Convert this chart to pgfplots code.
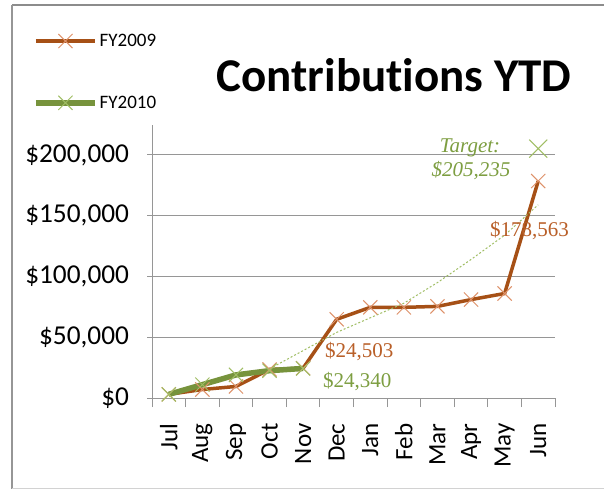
\documentclass[border=0pt]{standalone}
\usepackage{fontspec}
\setmainfont{Carlito}[Ligatures={NoCommon}]
\newfontfamily\labfont{Liberation Serif}
\usepackage{pgfplots}
\pgfplotsset{compat=1.18}
\definecolor{brownline}{RGB}{166,80,22}
\definecolor{brownmark}{RGB}{222,145,105}
\definecolor{browntext}{RGB}{185,95,40}
\definecolor{greenline}{RGB}{119,147,60}
\definecolor{greenmark}{RGB}{160,190,100}
\definecolor{greentext}{RGB}{125,158,65}
\definecolor{gridgray}{RGB}{150,150,150}
\begin{document}
\begin{tikzpicture}
\useasboundingbox (0,0) rectangle (604bp,491bp);
\fill[white] (0,0) rectangle (604bp,491bp);
\draw[line width=2bp, color={rgb,255:red,140;green,140;blue,140}] (12bp,486bp) -- (604bp,486bp);
\draw[line width=1.5bp, color={rgb,255:red,150;green,150;blue,150}] (12bp,486bp) -- (12bp,2bp);
\draw[line width=1bp, color={rgb,255:red,210;green,210;blue,210}] (12bp,2bp) -- (604bp,2bp);
\begin{axis}[
  scale only axis,
  width=403bp, height=273.4bp,
  at={(152bp,93bp)}, anchor=south west,
  xmin=-0.5, xmax=11.5,
  ymin=0, ymax=225000,
  axis lines*=left,
  axis line style={gridgray, line width=1bp},
  xtick={-0.5,0.5,...,11.5},
  x tick label as interval,
  xticklabels={Jul,Aug,Sep,Oct,Nov,Dec,Jan,Feb,Mar,Apr,May,Jun},
  xticklabel style={yshift=-13bp, rotate=90, anchor=east, font=\fontsize{25bp}{28bp}\selectfont},
  ytick={0,50000,100000,150000,200000},
  yticklabels={\$0,{\$50,000},{\$100,000},{\$150,000},{\$200,000}},
  yticklabel style={xshift=-15bp, font=\fontsize{27.3bp}{31bp}\selectfont},
  scaled y ticks=false,
  xtick align=outside,
  ytick align=center,
  major tick length=9bp,
  tick style={gridgray, line width=1bp},
  ymajorgrids,
  major grid style={gridgray, line width=1bp},
  clip=false,
  legend style={at={(axis description cs:-0.2953,1.339)}, anchor=north west, draw=none, fill=none,
    font=\fontsize{19bp}{22bp}\selectfont, row sep=44bp, inner sep=0pt},
  legend cell align=left,
  legend image code/.code={\draw[mark repeat=2,mark phase=2,#1] plot coordinates {(0bp,0bp) (29.5bp,0bp) (59bp,0bp)};},
]
\addplot[brownline, line width=3.5bp, mark=x, mark size=10bp,
  mark options={brownmark, line width=1bp}]
  coordinates {(0,3000) (1,7000) (2,9500) (3,23500) (4,24503) (5,64800) (6,74600) (7,74600) (8,75400) (9,81000) (10,86000) (11,178563)};
\addlegendentry{FY2009}
\addplot[greenline, line width=5.5bp, mark=x, mark size=10bp,
  mark options={greenmark, line width=1bp}]
  coordinates {(0,3000) (1,11000) (2,19000) (3,22500) (4,24340)};
\addlegendentry{FY2010}
\addplot[greenmark, line width=1bp, dash pattern=on 2bp off 2bp, forget plot]
  coordinates {(3,24000) (4,39000) (5,54000) (6,66000) (7,78000) (8,95000) (9,114000) (10,134000) (11,159000)};
\addplot[only marks, mark=x, mark size=12.7bp, mark options={greenmark, line width=1bp}, forget plot]
  coordinates {(11,205235)};
\end{axis}
\node[anchor=base, font=\bfseries\fontsize{47bp}{52bp}\selectfont] at (394bp,399bp) {Contribut\kern0pt ions YTD};
\node[anchor=base west, inner sep=0pt, text=browntext, font=\labfont\fontsize{21bp}{24bp}\selectfont] at (325bp,133bp) {\$24,503};
\node[anchor=base west, inner sep=0pt, text=greentext, font=\labfont\fontsize{21bp}{24bp}\selectfont] at (323bp,103bp) {\$24,340};
\node[anchor=base west, inner sep=0pt, text=browntext, font=\labfont\fontsize{21bp}{24bp}\selectfont] at (490bp,254bp) {\$178,563};
\node[anchor=base, inner sep=0pt, text=greentext, font=\labfont\itshape\fontsize{21bp}{24bp}\selectfont] at (470bp,338bp) {Target:};
\node[anchor=base, inner sep=0pt, text=greentext, font=\labfont\itshape\fontsize{21bp}{24bp}\selectfont] at (471bp,314bp) {\$205,235};
\end{tikzpicture}
\end{document}
